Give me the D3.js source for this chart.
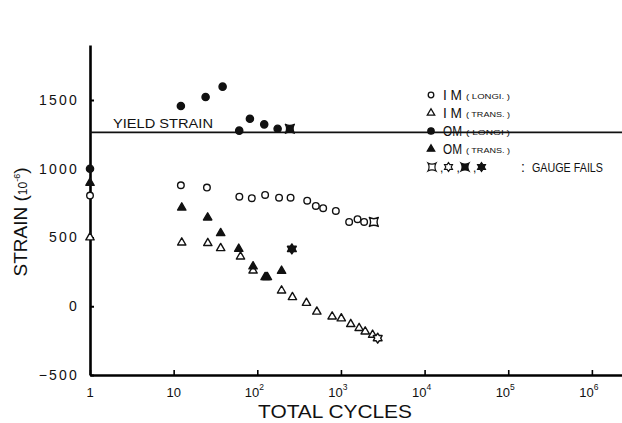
<!DOCTYPE html>
<html>
<head>
<meta charset="utf-8">
<script src="https://cdn.jsdelivr.net/npm/d3@7"></script>
<style>
  body { margin: 0; background: #fff; }
  text { font-family: "Liberation Sans", Arial, sans-serif; fill: #111; }
</style>
</head>
<body>
<script>
// data (cycles, strain 10^-6)
var imLongiX = [1, 12.2, 25, 61, 86, 124, 182, 250, 395, 501, 613, 869, 1253, 1579, 1893];
var imLongiY = [805, 880, 863, 797, 786, 810, 790, 790, 768, 730, 713, 693, 613, 633, 613];
var imTransX = [1, 12.5, 25.6, 36.5, 63, 89, 128, 195, 263, 387, 515, 785, 1010, 1310, 1650, 1950, 2390];
var imTransY = [500, 463, 459, 422, 361, 259, 211, 114, 66, 24, -40, -75, -89, -130, -159, -184, -208];
var omLongiX = [1, 12.2, 24.1, 38.5, 60.8, 81.6, 121, 175];
var omLongiY = [1000, 1456, 1522, 1597, 1277, 1364, 1323, 1291];
var omTransX = [1, 12.5, 25.5, 36.5, 60, 89, 124, 132, 195];
var omTransY = [897, 717, 645, 531, 417, 289, 211, 211, 257];
// gauge failure points: [cycles, strain]
var failIM_L = [2472, 613];
var failIM_T = [2750, -232];
var failOM_L = [245, 1291];
var failOM_T = [259, 417];
var yieldStrain = 1265;
var yTicks = [-500, 0, 500, 1000, 1500];
var xTicks = [1, 10, 100, 1000, 10000, 100000, 1000000];
var xTickLabels = ["1", "10", "10|2", "10|3", "10|4", "10|5", "10|6"];

var W = 622, H = 423;
var svg = d3.select("body").append("svg")
    .attr("width", W).attr("height", H);

var x = d3.scaleLog().domain([1, Math.pow(10, 6.36)]).range([90, 622]);
var y = d3.scaleLinear().domain([-500, 1900]).range([375, 45]);

// axes
var yAxis = svg.append("g")
  .attr("transform", "translate(90,0)")
  .call(d3.axisLeft(y).tickValues(yTicks).tickFormat(d3.format("d"))
    .tickSizeInner(-4).tickSizeOuter(0).tickPadding(11));
yAxis.select(".domain").attr("stroke-width", 2.6);
yAxis.selectAll(".tick line").attr("stroke-width", 2);
yAxis.selectAll(".tick text")
  .attr("font-size", 14).attr("letter-spacing", 2.2)
  .style("font-family", "Liberation Sans, Arial, sans-serif")
  .attr("fill", "#111");

var xAxis = svg.append("g")
  .attr("transform", "translate(0,375)")
  .call(d3.axisBottom(x).tickValues(xTicks).tickSizeInner(-5).tickSizeOuter(0).tickFormat(""));
xAxis.select(".domain").attr("stroke-width", 2.6);
xAxis.selectAll(".tick line").attr("stroke-width", 1.6);

xTickLabels.forEach(function(l, i) {
  var parts = l.split("|");
  var t = svg.append("text")
    .attr("x", x(xTicks[i]) - (parts[1] ? 3 : 0))
    .attr("y", 397)
    .attr("text-anchor", "middle")
    .attr("font-size", 13);
  t.append("tspan").text(parts[0]);
  if (parts[1]) t.append("tspan").attr("dy", -7).attr("font-size", 8.5).text(parts[1]);
});

// axis titles
svg.append("text")
  .attr("x", 258).attr("y", 418)
  .attr("font-size", 18)
  .attr("textLength", 154).attr("lengthAdjust", "spacingAndGlyphs")
  .text("TOTAL CYCLES");

var yt = svg.append("text")
  .attr("transform", "translate(27,222) rotate(-90)")
  .attr("text-anchor", "middle")
  .attr("font-size", 19);
yt.append("tspan").text("STRAIN (");
yt.append("tspan").attr("font-size", 12).text("10");
yt.append("tspan").attr("font-size", 9).attr("dy", -7).text("-6");
yt.append("tspan").attr("dy", 7).text(")");

// yield strain line
svg.append("line")
  .attr("x1", x(1)).attr("x2", W)
  .attr("y1", y(yieldStrain)).attr("y2", y(yieldStrain))
  .attr("stroke", "#111").attr("stroke-width", 1.8);
svg.append("text")
  .attr("x", 113).attr("y", y(yieldStrain) - 4)
  .attr("font-size", 13)
  .attr("textLength", 100).attr("lengthAdjust", "spacingAndGlyphs")
  .text("YIELD STRAIN");

// marker shapes
var tri = d3.symbol().type(d3.symbolTriangle).size(30);
var concaveSq = "M-4.5,-4.5Q0,-2 4.5,-4.5Q2,0 4.5,4.5Q0,2 -4.5,4.5Q-2,0 -4.5,-4.5Z";
var hexStar = "M0,-5L1.6,-2.6L4.4,-2.6L3,0L4.4,2.6L1.6,2.6L0,5L-1.6,2.6L-4.4,2.6L-3,0L-4.4,-2.6L-1.6,-2.6Z";

function pairs(xs, ys) { return xs.map(function(v, i) { return [v, ys[i]]; }); }

function drawCircles(data, filled, r) {
  svg.append("g").selectAll("circle").data(data).enter().append("circle")
    .attr("cx", function(d) { return x(d[0]); })
    .attr("cy", function(d) { return y(d[1]); })
    .attr("r", r)
    .attr("fill", filled ? "#111" : "#fff")
    .attr("stroke", "#111").attr("stroke-width", 1.4);
}
function drawPath(data, p, filled) {
  svg.append("g").selectAll("path").data(data).enter().append("path")
    .attr("transform", function(d) { return "translate(" + x(d[0]) + "," + y(d[1]) + ")"; })
    .attr("d", p)
    .attr("fill", filled ? "#111" : "#fff")
    .attr("stroke", "#111").attr("stroke-width", 1.4)
    .attr("stroke-linejoin", "round");
}

drawCircles(pairs(imLongiX, imLongiY), false, 3.3);
drawPath(pairs(imTransX, imTransY), tri(), false);
drawCircles(pairs(omLongiX, omLongiY), true, 3.6);
drawPath(pairs(omTransX, omTransY), tri(), true);
drawPath([failIM_L], concaveSq, false);
drawPath([failIM_T], hexStar, false);
drawPath([failOM_L], concaveSq, true);
drawPath([failOM_T], hexStar, true);

// legend
var legend = [
  { name: "I M", sub: "( LONGI. )", kind: "c", fill: false },
  { name: "I M", sub: "( TRANS. )", kind: "t", fill: false },
  { name: "OM", sub: "( LONGI )", kind: "c", fill: true },
  { name: "OM", sub: "( TRANS. )", kind: "t", fill: true }
];
var lg = svg.append("g");
legend.forEach(function(d, i) {
  var cy = 95 + i * 18;
  var m;
  if (d.kind === "c") {
    m = lg.append("circle").attr("cx", 431).attr("cy", cy).attr("r", d.fill ? 3.2 : 2.8);
  } else {
    m = lg.append("path").attr("transform", "translate(431," + cy + ")").attr("d", d3.symbol().type(d3.symbolTriangle).size(24)());
  }
  m.attr("fill", d.fill ? "#111" : "#fff").attr("stroke", "#111").attr("stroke-width", 1.3);
  lg.append("text").attr("x", 443).attr("y", cy + 5).attr("font-size", 14)
    .attr("textLength", 19).attr("lengthAdjust", "spacingAndGlyphs").text(d.name);
  lg.append("text").attr("x", 466).attr("y", cy + 3.5).attr("font-size", 8)
    .attr("textLength", 44).attr("lengthAdjust", "spacingAndGlyphs").text(d.sub);
});
var gy = 167;
[[concaveSq, false], [hexStar, false], [concaveSq, true], [hexStar, true]].forEach(function(s, i) {
  lg.append("path")
    .attr("transform", "translate(" + (432 + i * 16.5) + "," + gy + ") scale(0.9)")
    .attr("d", s[0])
    .attr("fill", s[1] ? "#111" : "#fff")
    .attr("stroke", "#111").attr("stroke-width", 1.3);
  if (i < 3) lg.append("text").attr("x", 440 + i * 16.5).attr("y", gy + 5).attr("font-size", 12).text(",");
});
lg.append("text").attr("x", 521).attr("y", gy + 5).attr("font-size", 14).text(":");
lg.append("text").attr("x", 532).attr("y", gy + 5).attr("font-size", 12.5)
  .attr("textLength", 71).attr("lengthAdjust", "spacingAndGlyphs").text("GAUGE FAILS");
</script>
</body>
</html>
